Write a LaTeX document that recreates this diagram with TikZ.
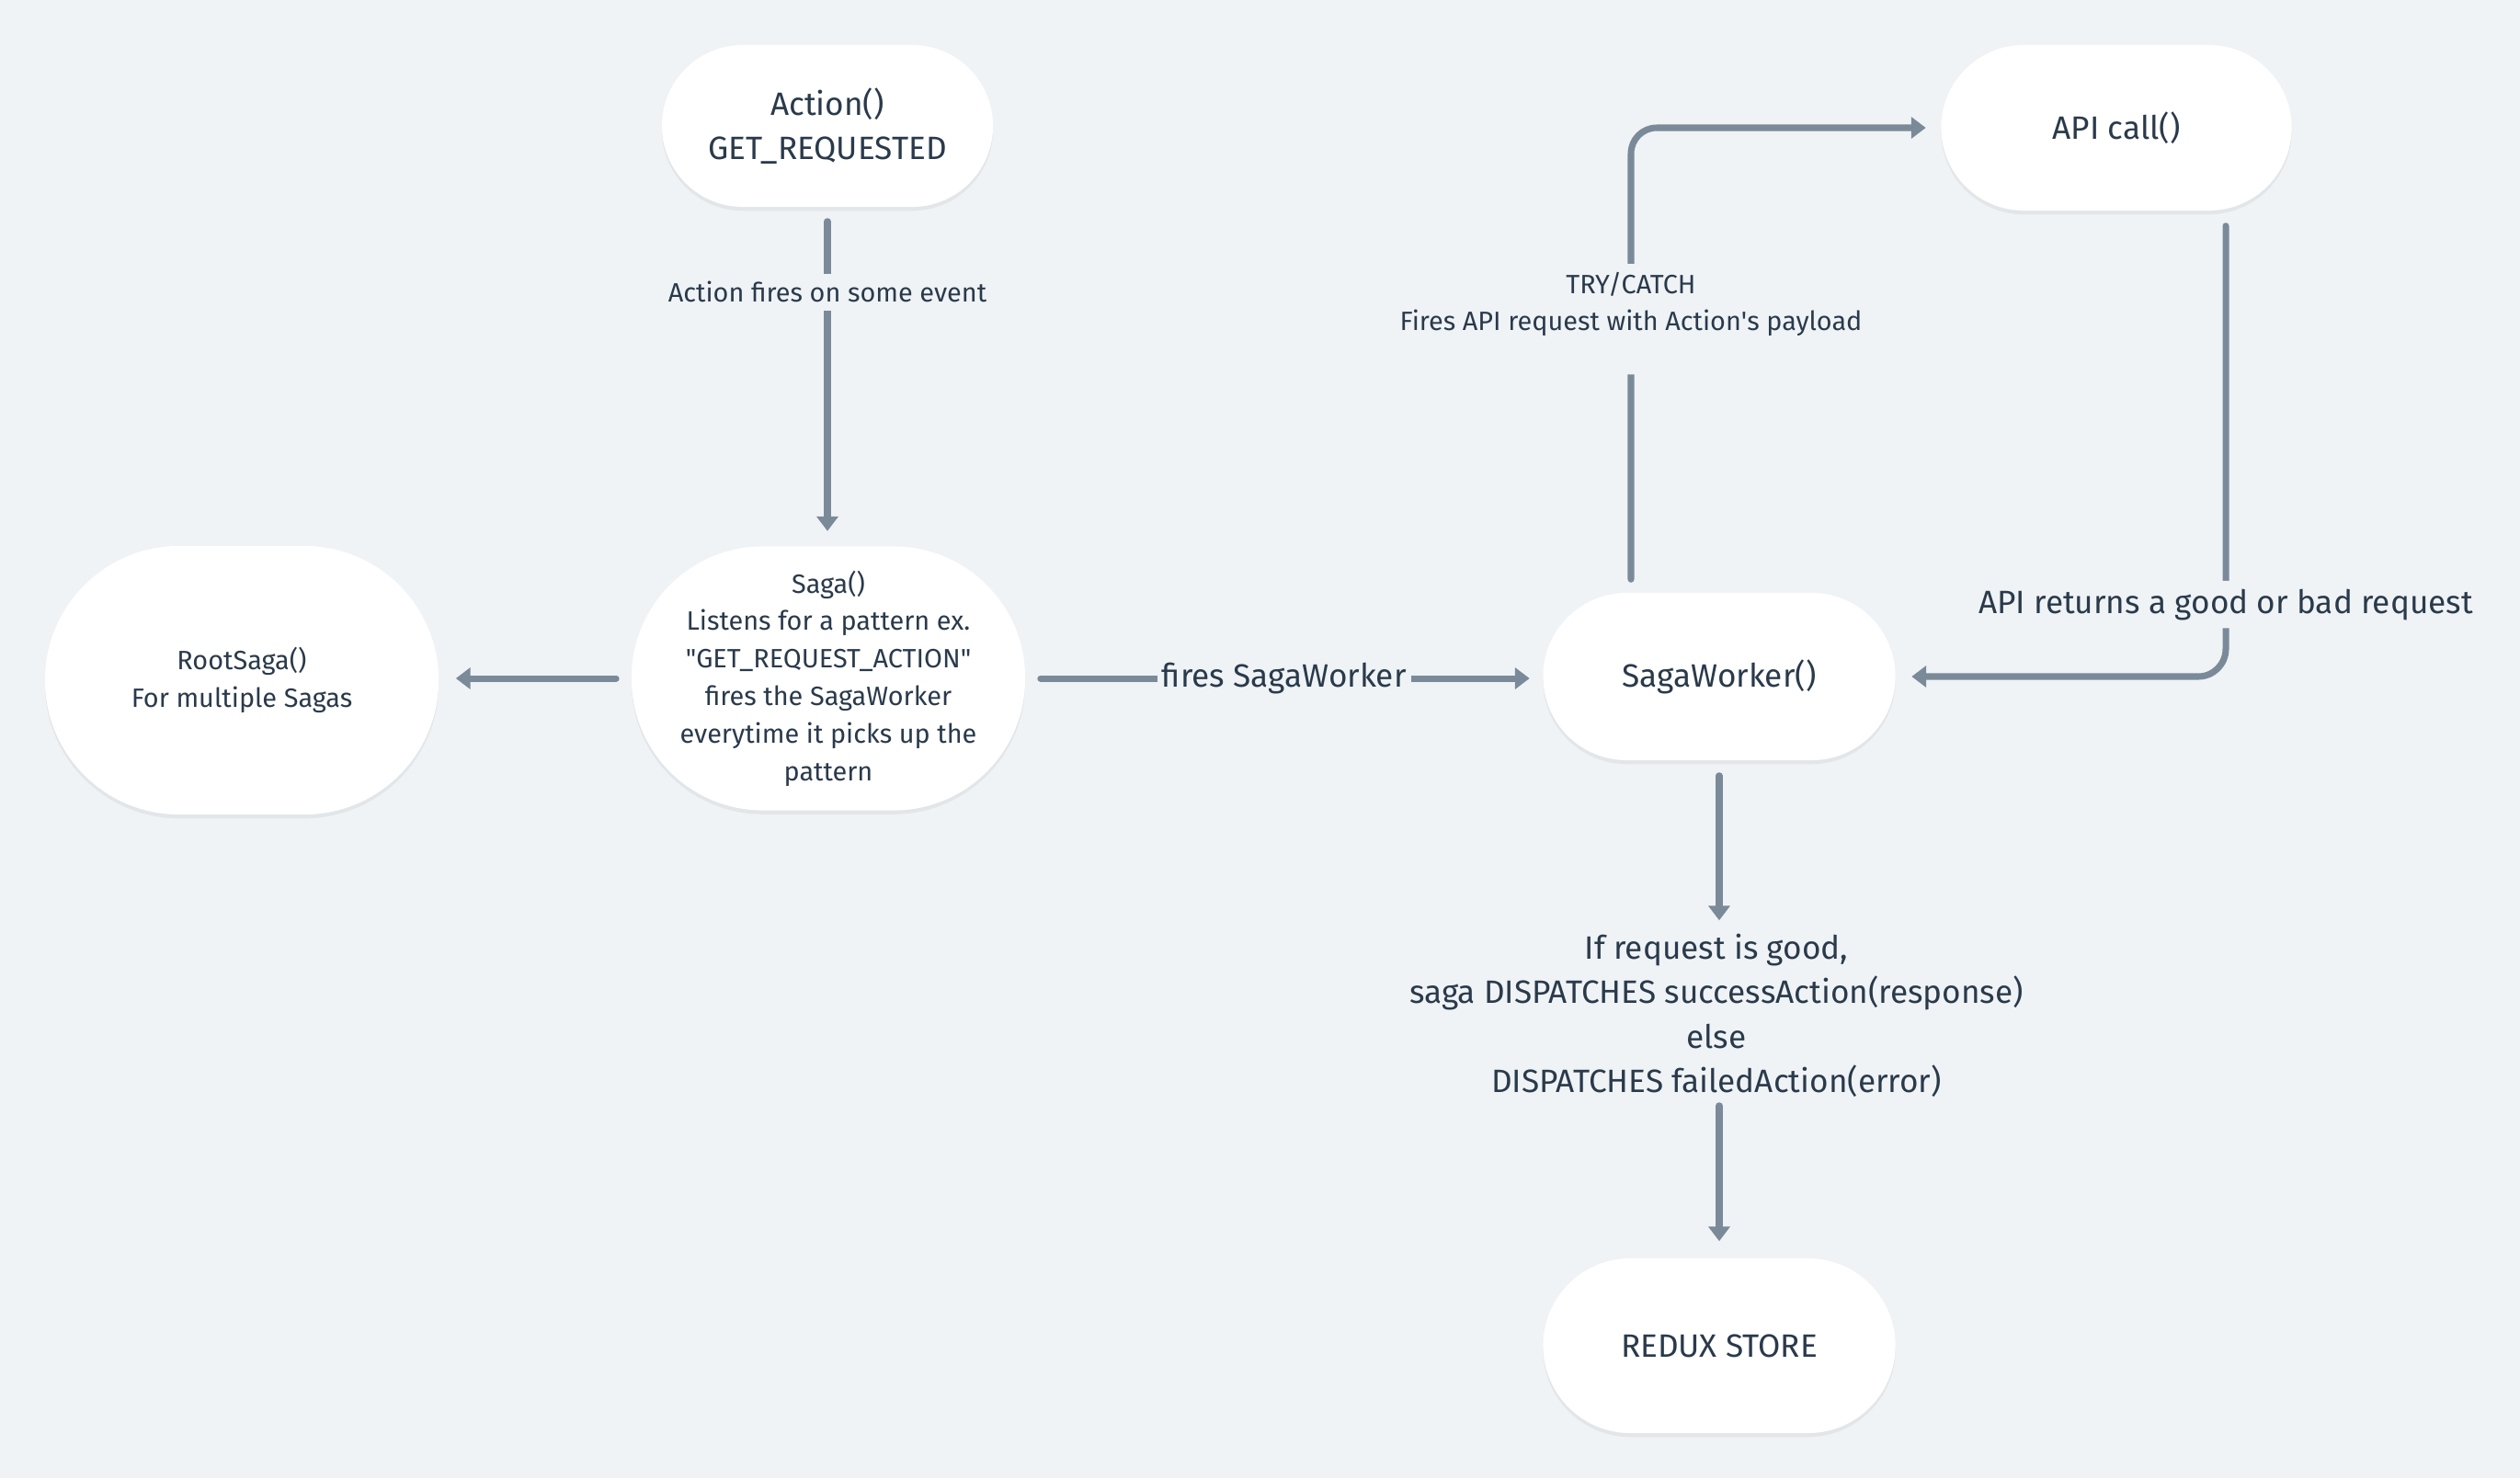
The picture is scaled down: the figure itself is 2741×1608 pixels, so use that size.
\documentclass[tikz,border=0pt]{standalone}
\usepackage{fontspec}
\setmainfont{Fira Sans}
\usetikzlibrary{arrows.meta}
\usetikzlibrary{calc}
\usetikzlibrary{shadows}
\definecolor{bgC}{HTML}{EFF3F6}
\definecolor{lineC}{HTML}{7A8A99}
\definecolor{txtC}{HTML}{2A3A4B}
\tikzset{>={Triangle[length=4.5pt, width=6.5pt]}}
\tikzset{
    pill/.style={fill=white, text=txtC, align=center, inner sep=0pt,
        drop shadow={shadow xshift=0pt, shadow yshift=-1.2pt, opacity=.05, fill=black}},
    flow/.style={draw=lineC, line width=2pt, line cap=round, ->},
    lbl/.style={fill=bgC, text=txtC, align=center, inner xsep=1.5pt, inner ysep=2.5pt},
    bigtxt/.style={font=\fontsize{10}{13.8}\selectfont},
    smalltxt/.style={font=\fontsize{8.2}{11.6}\selectfont},
}

\begin{document}
\begin{tikzpicture}[x=.01cm, y=-.01cm]
    \fill[bgC](0, 0)rectangle(2741, 1608);
    % boxes
    \node[pill, bigtxt, minimum width=3.6cm, minimum height=1.76cm, rounded corners=.88cm](act)at(900, 137){Action()\\GET\_REQUESTED};
    \node[pill, bigtxt, minimum width=3.81cm, minimum height=1.8cm, rounded corners=.9cm](api)at(2302, 139){API call()};
    \node[pill, smalltxt, minimum width=4.28cm, minimum height=2.92cm, rounded corners=1.46cm](root)at(263, 740){RootSaga()\\For multiple Sagas};
    \node[pill, smalltxt, minimum width=4.28cm, minimum height=2.87cm, rounded corners=1.43cm](saga)at(901, 738){Saga()\\Listens for a pattern ex.\\\textquotedbl GET\_REQUEST\_ACTION\textquotedbl\\fires the SagaWorker\\everytime it picks up the\\pattern};
    \node[pill, bigtxt, minimum width=3.83cm, minimum height=1.82cm, rounded corners=.91cm](sw)at(1870, 736){SagaWorker()};
    \node[pill, bigtxt, minimum width=3.83cm, minimum height=1.9cm, rounded corners=.95cm](store)at(1870, 1464){REDUX STORE};
    \node[bigtxt, text=txtC, align=center, inner sep=0pt](disp)at(1867, 1105){If request is good,\\saga DISPATCHES successAction(response)\\else\\DISPATCHES failedAction(error)};
    % arrows
    \draw[flow, shorten <=.15cm, shorten >=.16cm](act.south)--node[lbl, smalltxt, pos=.25]{Action fires on some event}(act.south |- saga.north);
    \draw[flow, shorten <=.16cm, shorten >=.18cm](saga.west)--(saga.west -| root.east);
    \draw[flow, shorten <=.16cm, shorten >=.14cm](saga.east)--node[lbl, bigtxt]{fires SagaWorker}(saga.east -| sw.west);
    \draw[flow, rounded corners=.28cm, shorten >=.16cm]($(sw.north)+(-96, -14)$)|-node[lbl, smalltxt, pos=.288, text depth=11pt]{TRY/CATCH\\Fires API request with Action\textquotesingle s payload}(api.west);
    \draw[flow, rounded corners=.3cm, shorten >=.17cm]($(api.south)+(119, 16)$)|-node[lbl, bigtxt, pos=.42]{API returns a good or bad request}(sw.east);
    \draw[flow, shorten <=.16cm, shorten >=.14cm](sw.south)--(sw.south |- disp.north);
    \draw[flow, shorten <=.08cm, shorten >=.18cm](sw.south |- disp.south)--(store.north);
\end{tikzpicture}
\end{document}
